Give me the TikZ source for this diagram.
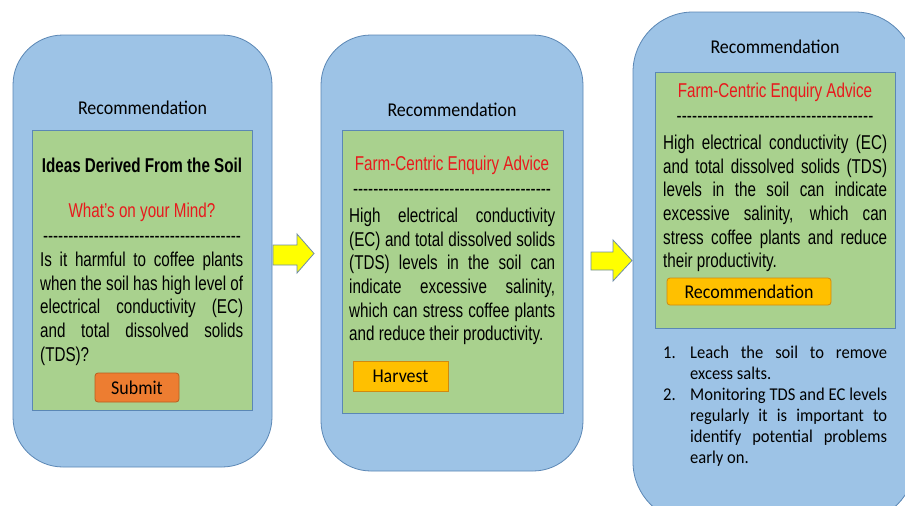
\documentclass[tikz,border=0pt]{standalone}
\usepackage{fontspec}
\newfontfamily\arfont[FakeStretch=0.76]{Liberation Sans}
\newfontfamily\cbfont[FakeStretch=0.92]{Carlito}
\definecolor{panelfill}{HTML}{9DC3E6}
\definecolor{paneldraw}{HTML}{5B87B5}
\definecolor{boxfill}{HTML}{A9D18E}
\definecolor{boxdraw}{HTML}{5B87B5}
\definecolor{redtxt}{HTML}{E8191C}
\definecolor{subfill}{HTML}{ED7D31}
\definecolor{subdraw}{HTML}{B85F1F}
\definecolor{goldfill}{HTML}{FFC000}
\definecolor{golddraw}{HTML}{D08A10}
\definecolor{arrowfill}{HTML}{FFFF00}
\definecolor{arrowdraw}{HTML}{6E8CA8}
\definecolor{txt}{HTML}{000000}
\newcommand\jline[2]{\makebox[#1][s]{#2}}
\newcommand\dashrow[1]{\makebox[#1]{\xleaders\hbox{-}\hfill}}
\newcommand\numlab[1]{\makebox[0pt][r]{\makebox[27pt][l]{#1}}}
\tikzset{
  panel/.style={draw=paneldraw, fill=panelfill, line width=0.8pt, rectangle, inner sep=0},
  greenbox/.style={draw=boxdraw, fill=boxfill, line width=0.8pt, rectangle, inner sep=0},
  titletxt/.style={font=\cbfont\fontsize{19.5}{23}\selectfont, text=txt, inner sep=0},
  headtxt/.style={font=\arfont\fontsize{20}{24}\selectfont, inner sep=0},
  bodytxt/.style={font=\arfont\fontsize{20}{23.6}\selectfont, text=txt, inner sep=0, align=left, anchor=north west},
  listtxt/.style={font=\cbfont\fontsize{18}{21}\selectfont, text=txt, inner sep=0, align=left, anchor=north west},
  btn/.style={font=\cbfont\fontsize{19.5}{23}\selectfont, text=txt, inner sep=0, line width=0.8pt},
  blockarrow/.style={draw=arrowdraw, fill=arrowfill, line width=0.8pt, line join=miter},
}
\begin{document}
\begin{tikzpicture}[x=1pt,y=-1pt]
\useasboundingbox (0,0) rectangle (905,506);
\fill[white] (0,0) rectangle (905,506);
\begin{scope}
\clip (0,0) rectangle (905,506);
% panels
\node[panel, minimum width=259pt, minimum height=432pt, rounded corners=50pt] (p1) at (142.5,251) {};
\node[panel, minimum width=262pt, minimum height=436pt, rounded corners=50pt] (p2) at (452,253) {};
\node[panel, minimum width=282pt, minimum height=510pt, rounded corners=60pt] (p3) at (774,267) {};
\end{scope}
% green boxes
\node[greenbox, minimum width=220pt, minimum height=280pt] (g1) at (142,270) {};
\node[greenbox, minimum width=221pt, minimum height=283pt] (g2) at (452.5,271.5) {};
\node[greenbox, minimum width=240pt, minimum height=256pt] (g3) at (775,200) {};
% titles
\node[titletxt] (t1) at (142.5,108) {Recommendation};
\node[titletxt] (t2) at (452,110) {Recommendation};
\node[titletxt] (t3) at (775,47) {Recommendation};
% panel 1
\node[headtxt, text=txt, font=\arfont\bfseries\fontsize{20}{24}\selectfont] (h1) at (142,165) {Ideas Derived From the Soil};
\node[headtxt, text=redtxt] (q1) at (142,212) {What’s on your Mind?};
\node[headtxt, text=txt] (d1) at (142,239.5) {\dashrow{198pt}};
\node[bodytxt] (b1) at (40,252) {%
\jline{203pt}{Is it harmful to coffee plants}\\
\jline{203pt}{when the soil has high level of}\\
\jline{203pt}{electrical conductivity (EC)}\\
\jline{203pt}{and total dissolved solids}\\
(TDS)?};
\node[btn, draw=subdraw, fill=subfill, rounded corners=3pt, minimum width=84pt, minimum height=29pt] (s1) at (137,387.5) {Submit};
% panel 2
\node[headtxt, text=redtxt] (h2) at (452,165) {Farm-Centric Enquiry Advice};
\node[headtxt, text=txt] (d2) at (452,192.5) {\dashrow{198pt}};
\node[bodytxt] (b2) at (349,208) {%
\jline{206pt}{High electrical conductivity}\\
\jline{206pt}{(EC) and total dissolved solids}\\
\jline{206pt}{(TDS) levels in the soil can}\\
\jline{206pt}{indicate excessive salinity,}\\
\jline{206pt}{which can stress coffee plants}\\
and reduce their productivity.};
\node[btn, draw=golddraw, fill=goldfill, minimum width=95pt, minimum height=30pt] (hv) at (400.5,376) {Harvest};
% panel 3
\node[headtxt, text=redtxt] (h3) at (775,92) {Farm-Centric Enquiry Advice};
\node[headtxt, text=txt] (d3) at (775,119.5) {\dashrow{197pt}};
\node[bodytxt] (b3) at (663,135) {%
\jline{224pt}{High electrical conductivity (EC)}\\
\jline{224pt}{and total dissolved solids (TDS)}\\
\jline{224pt}{levels in the soil can indicate}\\
\jline{224pt}{excessive salinity, which can}\\
\jline{224pt}{stress coffee plants and reduce}\\
their productivity.};
\node[btn, draw=golddraw, fill=goldfill, rounded corners=3pt, minimum width=164pt, minimum height=27pt] (rb) at (749,291.5) {Recommendation};
\node[listtxt] (l3) at (690,346) {%
\numlab{1.}\jline{197pt}{Leach the soil to remove}\\
excess salts.\\
\numlab{2.}\jline{197pt}{Monitoring TDS and EC levels}\\
\jline{197pt}{regularly it is important to}\\
\jline{197pt}{identify potential problems}\\
early on.};
% block arrows
\draw[blockarrow] (273,245) -- (297,245) -- (297,234) -- (314,253.5) -- (297,273) -- (297,265) -- (273,265) -- cycle;
\draw[blockarrow] (591,252) -- (613,252) -- (613,240) -- (632,260.5) -- (613,281) -- (613,270) -- (591,270) -- cycle;
\end{tikzpicture}
\end{document}
